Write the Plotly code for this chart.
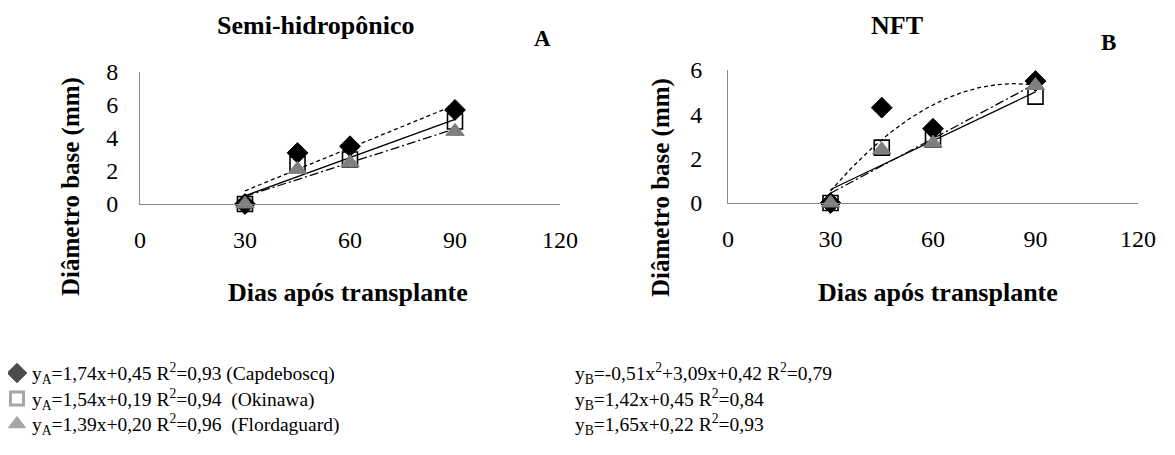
import numpy as np
import plotly.graph_objects as go

# page body adds an 8px margin; lay out in reference pixels and compensate
OFF = 8
W, H = 1175 - OFF, 455 - OFF
FONT = "Liberation Serif"

days = [30, 45, 60, 90]

# Panel A - Semi-hidropônico
a_capdeboscq = [0.0, 3.1, 3.5, 5.7]
a_okinawa = [0.0, 2.4, 2.7, 5.0]
a_flordaguard = [0.0, 2.1, 2.5, 4.4]

# Panel B - NFT
b_capdeboscq = [0.0, 4.3, 3.35, 5.5]
b_okinawa = [0.0, 2.5, 2.85, 4.8]
b_flordaguard = [0.0, 2.4, 2.7, 5.3]

x_ticks = [0, 30, 60, 90, 120]

legend_left = [
    "y<sub>A</sub>=1,74x+0,45 R<sup>2</sup>=0,93 (Capdeboscq)",
    "y<sub>A</sub>=1,54x+0,19 R<sup>2</sup>=0,94  (Okinawa)",
    "y<sub>A</sub>=1,39x+0,20 R<sup>2</sup>=0,96  (Flordaguard)",
]
legend_right = [
    "y<sub>B</sub>=-0,51x<sup>2</sup>+3,09x+0,42 R<sup>2</sup>=0,79",
    "y<sub>B</sub>=1,42x+0,45 R<sup>2</sup>=0,84",
    "y<sub>B</sub>=1,65x+0,22 R<sup>2</sup>=0,93",
]


def px(x):
    return (x - OFF) / W


def py(y):
    return 1 - (y - OFF) / H


fig = go.Figure()

marker_styles = [
    dict(symbol="diamond", size=16, color="black", line=dict(color="black", width=1)),
    dict(symbol="square-open", size=15, color="black", line=dict(color="black", width=1.6)),
    dict(symbol="triangle-up", size=16, color="#7f7f7f", line=dict(color="#7f7f7f", width=1)),
]
line_dashes = ["4px,3px", "solid", "9px,3px,2px,3px"]

xs_fit = np.linspace(30, 90, 121)


def add_panel(series, degrees, xa, ya):
    for i, (vals, deg) in enumerate(zip(series, degrees)):
        coef = np.polyfit(days, vals, deg)
        fig.add_trace(go.Scatter(
            x=xs_fit, y=np.polyval(coef, xs_fit), mode="lines",
            line=dict(color="black", width=1.3, dash=line_dashes[i]),
            xaxis=xa, yaxis=ya, showlegend=False, hoverinfo="skip",
        ))
    for i, vals in enumerate(series):
        fig.add_trace(go.Scatter(
            x=days, y=vals, mode="markers", marker=marker_styles[i],
            xaxis=xa, yaxis=ya, showlegend=False, cliponaxis=False,
        ))


add_panel([a_capdeboscq, a_okinawa, a_flordaguard], [1, 1, 1], "x", "y")
add_panel([b_capdeboscq, b_okinawa, b_flordaguard], [2, 1, 1], "x2", "y2")

axis_common = dict(
    showline=True, linecolor="#8a8a8a", linewidth=1, showgrid=False, zeroline=False,
    ticks="", automargin=False,
    tickfont=dict(family=FONT, size=24, color="black"),
)

fig.update_layout(
    width=W, height=H,
    margin=dict(l=0, r=0, t=0, b=0, pad=0, autoexpand=False),
    paper_bgcolor="white", plot_bgcolor="white",
    showlegend=False,
    font=dict(family=FONT, color="black"),
    xaxis=dict(domain=[px(140), px(560)], range=[0, 120], tickvals=x_ticks,
               anchor="y", ticklabelstandoff=14, **axis_common),
    yaxis=dict(domain=[py(204), py(72)], range=[0, 8], dtick=2,
               anchor="x", ticklabelstandoff=16, **axis_common),
    xaxis2=dict(domain=[px(728), px(1138)], range=[0, 120], tickvals=x_ticks,
                anchor="y2", ticklabelstandoff=14, **axis_common),
    yaxis2=dict(domain=[py(203), py(70)], range=[0, 6], dtick=2,
                anchor="x2", ticklabelstandoff=20, **axis_common),
)

ann = []


def text(x, y, s, size, bold=False, angle=0, xanchor="center"):
    ann.append(dict(
        x=px(x), y=py(y), xref="paper", yref="paper", text=s,
        showarrow=False, textangle=angle, xanchor=xanchor, yanchor="middle",
        font=dict(family=FONT, size=size, color="black",
                  weight="bold" if bold else "normal"),
    ))


text(315, 25, "Semi-hidropônico", 26, bold=True)
text(542, 38, "A", 23, bold=True)
text(897, 25, "NFT", 26, bold=True)
text(1108, 43, "B", 23, bold=True)
text(348, 292, "Dias após transplante", 26, bold=True)
text(938, 292, "Dias após transplante", 26, bold=True)
text(71, 187, "Diâmetro base (mm)", 25, bold=True, angle=-90)
text(661, 188, "Diâmetro base (mm)", 25, bold=True, angle=-90)

rows_y = [373, 399, 424]
for i, y in enumerate(rows_y):
    text(30, y, legend_left[i], 19.5, xanchor="left")
    text(573, y, legend_right[i], 19.5, xanchor="left")

fig.update_layout(annotations=ann)

# legend key symbols
fig.add_trace(go.Scatter(
    x=[0, 0, 0], y=[0, 1, 2], mode="markers", xaxis="x3", yaxis="y3",
    marker=dict(
        symbol=["diamond", "square-open", "triangle-up"],
        size=[15, 13, 15],
        color=["black", "#808080", "#808080"],
        line=dict(color=["black", "#808080", "#808080"], width=[1, 3, 1]),
    ),
    showlegend=False, cliponaxis=False, hoverinfo="skip",
))
fig.update_layout(
    xaxis3=dict(domain=[px(8), px(26)], range=[-1, 1], visible=False,
                anchor="y3", automargin=False),
    yaxis3=dict(domain=[py(424), py(373)], range=[2, 0], visible=False,
                anchor="x3", automargin=False),
)

fig.write_html("out.html")
